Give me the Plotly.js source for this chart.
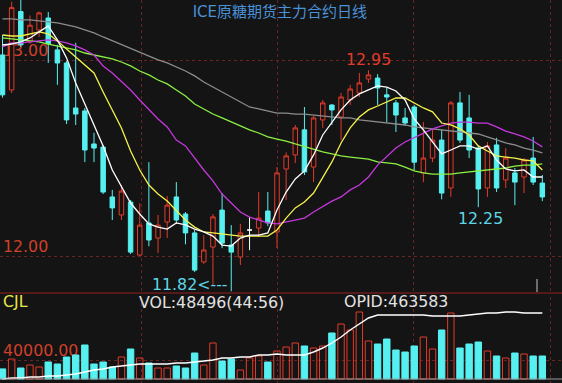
<!DOCTYPE html>
<html><head><meta charset="utf-8">
<script src="https://cdn.plot.ly/plotly-3.0.1.min.js"></script>
<style>html,body{margin:0;padding:0;background:#141414;overflow:hidden}#chart{width:562px;height:383px}</style>
</head><body><div id="chart"></div>
<script>
const chartTitle = 'ICE原糖期货主力合约日线';
const open  = [13.028,12.849,13.25,13.095,13.156,13.217,13.054,12.987,12.757,12.742,12.573,12.557,12.302,12.21,12.276,12.005,12.169,12.092,12.174,12.302,12.215,12.118,11.97,12.046,12.235,12.056,11.995,12.133,12.143,12.23,12.123,12.445,12.517,12.645,12.455,12.696,12.772,12.711,12.798,12.834,12.905,12.91,12.824,12.783,12.706,12.762,12.425,12.501,12.593,12.348,12.783,12.706,12.552,12.348,12.568,12.389,12.425,12.404,12.501,12.373];
const high  = [13.13,13.30,13.31,13.23,13.25,13.248,13.08,12.997,13.09,12.757,12.63,12.568,12.338,12.363,12.286,12.27,12.48,12.21,12.307,12.378,12.225,12.133,12.107,12.215,12.322,12.158,12.164,12.2,12.327,12.327,12.455,12.53,12.67,12.762,12.716,12.798,12.777,12.834,12.875,12.936,12.95,12.93,12.86,12.798,12.757,12.772,12.685,12.645,12.645,12.793,12.839,12.824,12.563,12.583,12.604,12.552,12.45,12.501,12.609,12.414];
const low   = [12.81,12.834,13.07,13.085,13.12,12.987,12.875,12.675,12.67,12.48,12.48,12.317,12.184,12.184,12.01,12.0,12.05,12.015,12.092,12.164,12.06,11.918,11.96,11.852,12.04,11.82,11.954,12.03,12.097,12.153,12.04,12.286,12.476,12.414,12.378,12.655,12.67,12.593,12.772,12.813,12.885,12.772,12.685,12.634,12.665,12.44,12.378,12.48,12.29,12.302,12.578,12.501,12.25,12.302,12.327,12.348,12.26,12.322,12.363,12.281];
const close = [12.824,13.27,13.08,13.18,13.243,13.085,12.987,12.696,12.726,12.542,12.552,12.327,12.246,12.332,12.02,12.158,12.082,12.158,12.26,12.184,12.118,11.928,12.031,12.2,12.066,12.02,12.118,12.133,12.194,12.169,12.425,12.512,12.655,12.43,12.706,12.783,12.747,12.813,12.854,12.885,12.926,12.859,12.813,12.721,12.68,12.48,12.501,12.593,12.322,12.783,12.593,12.542,12.343,12.563,12.348,12.501,12.378,12.491,12.378,12.302];
const volume = [21240,42150,23180,29530,25310,35870,31620,46380,50620,71690,31640,35830,25290,46410,63260,44270,33740,23190,23210,27420,23160,54810,29520,75890,37950,42160,18970,44280,48490,35840,59030,67460,75890,69560,65350,69570,96970,115940,103290,141240,80100,73780,84320,61130,56920,69560,88540,63240,103290,139130,65350,73780,77990,59020,48480,44270,54810,52700,48490,48496];
const openInterest = [377780,379080,379120,380390,380410,381680,381710,382990,384280,386880,389490,390780,393380,394690,395980,397280,397300,397270,397290,398580,398600,399880,401190,402480,405080,405100,406380,406390,408980,408990,410280,408980,408970,408990,412880,418080,424580,432380,441480,449280,457080,460980,460990,460970,460980,460990,460960,459680,459690,459670,459680,460980,462280,463580,463590,464880,464870,463580,463570,463583];
const ma5  = [13.079,13.084,13.095,13.115,13.146,13.176,13.105,13.013,12.885,12.777,12.675,12.563,12.44,12.358,12.271,12.215,12.164,12.148,12.138,12.169,12.159,12.138,12.123,12.102,12.056,12.051,12.092,12.107,12.107,12.118,12.235,12.327,12.394,12.435,12.517,12.619,12.68,12.747,12.798,12.829,12.849,12.87,12.864,12.844,12.798,12.701,12.645,12.583,12.522,12.542,12.563,12.563,12.547,12.563,12.491,12.445,12.435,12.44,12.404,12.404];
const ma10 = [13.13,13.125,13.125,13.136,13.146,13.136,13.1,13.059,13.018,12.977,12.936,12.839,12.747,12.655,12.537,12.44,12.363,12.317,12.281,12.235,12.184,12.148,12.123,12.118,12.113,12.107,12.102,12.102,12.102,12.102,12.133,12.194,12.246,12.276,12.322,12.399,12.481,12.578,12.655,12.711,12.747,12.767,12.788,12.808,12.808,12.783,12.757,12.737,12.68,12.67,12.65,12.619,12.563,12.537,12.512,12.506,12.501,12.491,12.486,12.44];
const ma20 = [13.069,13.09,13.09,13.095,13.1,13.105,13.1,13.09,13.074,13.054,13.028,12.972,12.936,12.895,12.849,12.798,12.747,12.701,12.66,12.593,12.563,12.501,12.44,12.384,12.317,12.271,12.225,12.199,12.184,12.169,12.164,12.174,12.184,12.194,12.225,12.251,12.281,12.302,12.338,12.363,12.404,12.465,12.506,12.552,12.583,12.604,12.629,12.65,12.665,12.68,12.685,12.685,12.68,12.68,12.66,12.639,12.624,12.609,12.588,12.558];
const ma40 = [13.115,13.11,13.105,13.1,13.095,13.084,13.074,13.064,13.054,13.038,13.028,13.018,13.008,12.992,12.972,12.946,12.926,12.90,12.88,12.849,12.818,12.777,12.752,12.726,12.706,12.685,12.665,12.645,12.629,12.609,12.598,12.588,12.573,12.558,12.547,12.532,12.522,12.512,12.506,12.501,12.496,12.481,12.476,12.471,12.455,12.435,12.425,12.419,12.419,12.419,12.425,12.43,12.435,12.44,12.445,12.45,12.46,12.465,12.465,12.471];
const ma60 = [13.212,13.212,13.207,13.207,13.202,13.197,13.192,13.182,13.171,13.156,13.141,13.12,13.1,13.084,13.064,13.043,13.023,13.003,12.987,12.967,12.946,12.921,12.89,12.864,12.839,12.813,12.788,12.762,12.752,12.742,12.731,12.731,12.726,12.726,12.721,12.716,12.711,12.706,12.706,12.696,12.691,12.685,12.68,12.675,12.67,12.66,12.655,12.65,12.645,12.639,12.634,12.629,12.624,12.609,12.593,12.578,12.568,12.552,12.542,12.527];
const priceTicks = [12, 13];
const volTicks = [40000];
const volRatio = '(44:56)';

const RED = '#e23b2a', CYAN = '#57f0f0', BG = '#141414', GRID = '#6a2222';
const FONT = 'DejaVu Sans, Noto Sans CJK SC, sans-serif';
const idx = open.map((_, i) => i);
const body = idx.filter(i => close[i] !== open[i]);
const doji = idx.filter(i => close[i] === open[i]);
const pick = (arr, ids) => ids.map(i => arr[i]);

const traces = [
  {type:'candlestick', x:body, open:pick(open,body), high:pick(high,body), low:pick(low,body), close:pick(close,body),
   increasing:{line:{color:RED,width:1}, fillcolor:BG}, decreasing:{line:{color:CYAN,width:1}, fillcolor:CYAN},
   whiskerwidth:0, hoverinfo:'skip', xaxis:'x', yaxis:'y'},
  {type:'candlestick', x:doji, open:pick(open,doji), high:pick(high,doji), low:pick(low,doji), close:pick(close,doji),
   increasing:{line:{color:'#ffffff',width:1}, fillcolor:'#ffffff'}, decreasing:{line:{color:'#ffffff',width:1}, fillcolor:'#ffffff'},
   whiskerwidth:0, hoverinfo:'skip', xaxis:'x', yaxis:'y'}
];
const maDefs = [[ma60,'#8c8c8c'],[ma40,'#8cf044'],[ma20,'#c438dc'],[ma10,'#f4f24a'],[ma5,'#ffffff']];
maDefs.forEach(([arr,c]) => traces.push({type:'scatter', mode:'lines', x:idx, y:arr, line:{color:c,width:1.3}, hoverinfo:'skip', xaxis:'x', yaxis:'y'}));
const up = idx.map(i => close[i] >= open[i]);
traces.push({type:'bar', x:idx, y:volume, width:0.7,
  marker:{color:up.map(u => u ? 'rgba(0,0,0,0)' : CYAN), line:{color:up.map(u => u ? RED : CYAN), width:1}},
  hoverinfo:'skip', xaxis:'x2', yaxis:'y2'});
traces.push({type:'scatter', mode:'lines', x:idx, y:openInterest, line:{color:'#ffffff',width:1.4}, hoverinfo:'skip', xaxis:'x2', yaxis:'y3'});

const hi = high.indexOf(Math.max(...high.slice(30)), 30);
const lo = low.indexOf(Math.min(...low));
const lo2 = low.indexOf(Math.min(...low.slice(45)), 45);
const last = volume.length - 1;
const xr = [-0.273, 61.15];
const labFont = (c) => ({family:FONT, size:15.8, color:c});
const layout = {
  width:562, height:383, margin:{l:0,r:0,t:0,b:0},
  paper_bgcolor:BG, plot_bgcolor:BG, showlegend:false,
  title:{text:chartTitle, x:0.498, xanchor:'center', y:1-12/383, yanchor:'middle', yref:'container', font:{family:FONT, size:15, color:'#4a92d8'}},
  xaxis:{domain:[0,1], range:xr, anchor:'y', showticklabels:false, ticks:'', showgrid:true, gridcolor:GRID, griddash:'dot', gridwidth:1, tick0:0.27, dtick:14.9, zeroline:false, showline:false, rangeslider:{visible:false}},
  yaxis:{domain:[1-293/383,1], range:[11.811,13.309], tickvals:priceTicks, tickformat:'.2f', ticklabelposition:'inside', ticklabelshift:-10, ticks:'',
    tickfont:labFont('#d0402a'), showgrid:true, gridcolor:GRID, griddash:'dot', zeroline:false, showline:false, layer:'below traces'},
  xaxis2:{domain:[0,1], range:xr, anchor:'y2', showticklabels:false, ticks:'', showgrid:true, gridcolor:GRID, griddash:'dot', tick0:0.27, dtick:14.9, zeroline:false, showline:false},
  yaxis2:{domain:[0,1-297/383], range:[-8432,172856], tickvals:volTicks, tickformat:'.2f', ticklabelposition:'inside', ticklabelshift:-10, ticks:'',
    tickfont:labFont('#d0402a'), showgrid:true, gridcolor:GRID, griddash:'dot', zeroline:false, showline:false, layer:'below traces'},
  yaxis3:{overlaying:'y2', range:[372583,484383], visible:false},
  shapes:[
    {type:'line', xref:'paper', yref:'paper', x0:0, x1:1, y0:1-293/383, y1:1-293/383, line:{color:'#9a2020', width:1}},
    {type:'line', xref:'paper', yref:'y2', x0:0, x1:1, y0:0, y1:0, line:{color:'#9a9a9a', width:1}},
    {type:'line', xref:'paper', yref:'paper', x0:537/562, x1:537/562, y0:1-292/383, y1:1-279/383, line:{color:'#8a8a8a', width:1.5}}
  ],
  annotations:[
    {text:high[hi].toFixed(2), x:hi, y:high[hi], xref:'x', yref:'y', xanchor:'center', yanchor:'bottom', yshift:-1, showarrow:false, font:labFont('#e23b2a')},
    {text:low[lo].toFixed(2)+'<---', x:lo, y:low[lo], xref:'x', yref:'y', xanchor:'right', yanchor:'middle', xshift:-2, yshift:7, borderpad:0, showarrow:false, font:labFont('#5fd6e6')},
    {text:low[lo2].toFixed(2), x:lo2, y:low[lo2], xref:'x', yref:'y', xanchor:'center', yanchor:'top', xshift:2, showarrow:false, font:labFont('#5fd6e6')},
    {text:'CJL', x:2/562, y:1-301/383, xref:'paper', yref:'paper', xanchor:'left', yanchor:'middle', borderpad:0, showarrow:false, font:labFont('#e6e64a')},
    {text:'VOL:'+volume[last]+volRatio, x:138/562, y:1-302/383, xref:'paper', yref:'paper', xanchor:'left', yanchor:'middle', borderpad:0, showarrow:false, font:labFont('#e2e2e2')},
    {text:'OPID:'+openInterest[last], x:343/562, y:1-301/383, xref:'paper', yref:'paper', xanchor:'left', yanchor:'middle', borderpad:0, showarrow:false, font:labFont('#e2e2e2')}
  ]
};
Plotly.newPlot('chart', traces, layout, {displayModeBar:false, staticPlot:true});
</script></body></html>
